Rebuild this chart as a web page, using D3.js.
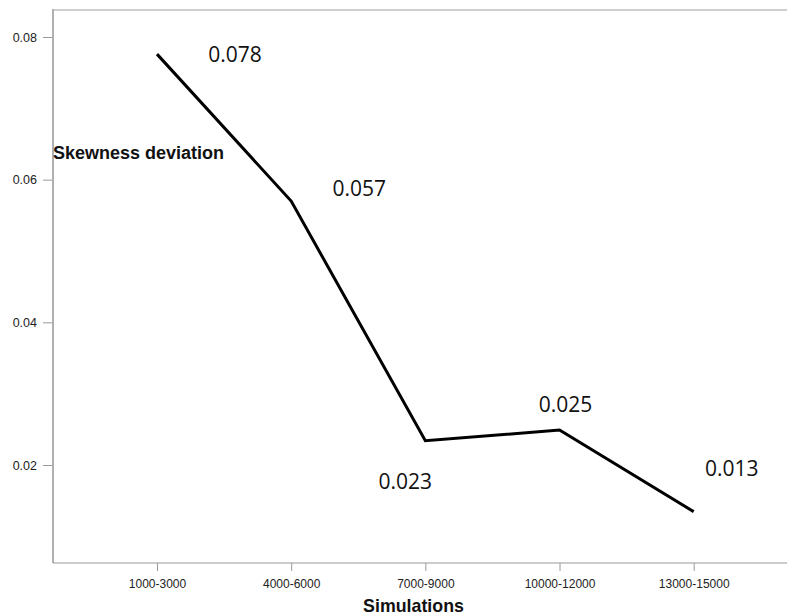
<!DOCTYPE html>
<html><head><meta charset="utf-8">
<script src="https://cdn.jsdelivr.net/npm/d3@7"></script>
<style>
html,body{margin:0;padding:0;background:#fff;}
svg{display:block;}
</style></head>
<body>
<svg id="chart" width="787" height="616"></svg>
<script>
const categories = ["1000-3000","4000-6000","7000-9000","10000-12000","13000-15000"];
const values = [0.0776, 0.0570, 0.0234, 0.0249, 0.01346];
const valueLabels = ["0.078","0.057","0.023","0.025","0.013"];
const yTicks = [0.02, 0.04, 0.06, 0.08];
const yTickLabels = ["0.02","0.04","0.06","0.08"];
const xTitle = "Simulations";
const yTitle = "Skewness deviation";

// label offsets (pixels) relative to each point
const labelOffsets = [[78,8],[68,-5],[-20,48],[6,-18],[38,-36]];

(function(){
const svg = d3.select("#chart");
const mLeft = 53, mTop = 10, mBottom = 563, mRight = 787;

const x = d3.scalePoint().domain(categories).range([157, 693.7]);
const y = d3.scaleLinear().domain([0.02, 0.08]).range([465, 37]);

// frame lines
svg.append("line").attr("x1", mLeft).attr("x2", mRight).attr("y1", mTop).attr("y2", mTop)
  .attr("stroke", "#cfcfcf").attr("stroke-width", 2);
svg.append("line").attr("x1", mLeft).attr("x2", mLeft).attr("y1", mTop - 1).attr("y2", mBottom)
  .attr("stroke", "#b0b0b0").attr("stroke-width", 2);
svg.append("line").attr("x1", mLeft).attr("x2", mRight).attr("y1", mBottom).attr("y2", mBottom)
  .attr("stroke", "#9a9a9a").attr("stroke-width", 1.2);

// y axis
const yAxis = svg.append("g").attr("transform", `translate(${mLeft - 1},0)`)
  .call(d3.axisLeft(y).tickValues(yTicks).tickSize(9).tickSizeOuter(0)
    .tickFormat((d, i) => yTickLabels[i]).tickPadding(6));
yAxis.select(".domain").remove();
yAxis.selectAll(".tick line").attr("stroke", "#9a9a9a");
yAxis.selectAll(".tick text").attr("font-family", "Liberation Sans, Arial, sans-serif")
  .attr("font-size", 12.5).attr("fill", "#222");

// x axis
const xAxis = svg.append("g").attr("transform", `translate(0,${mBottom})`)
  .call(d3.axisBottom(x).tickSize(8).tickSizeOuter(0).tickPadding(8));
xAxis.select(".domain").remove();
xAxis.selectAll(".tick line").attr("stroke", "#9a9a9a");
xAxis.selectAll(".tick text").attr("font-family", "Liberation Sans, Arial, sans-serif")
  .attr("font-size", 12).attr("fill", "#222");

// line
const line = d3.line().x((d, i) => x(categories[i])).y(d => y(d));
svg.append("path").datum(values).attr("d", line)
  .attr("fill", "none").attr("stroke", "#000").attr("stroke-width", 3)
  .attr("stroke-linejoin", "miter");

// value labels
svg.append("g").selectAll("text").data(values).join("text")
  .attr("x", (d, i) => x(categories[i]) + labelOffsets[i][0])
  .attr("y", (d, i) => y(d) + labelOffsets[i][1])
  .attr("text-anchor", "middle")
  .attr("font-family", "Open Sans, sans-serif")
  .attr("font-size", 21).attr("fill", "#111")
  .text((d, i) => valueLabels[i]);

// titles
svg.append("text").attr("x", 53).attr("y", 159)
  .attr("font-family", "Liberation Sans, Arial, sans-serif").attr("font-weight", "bold")
  .attr("font-size", 18).attr("fill", "#111").text(yTitle);
svg.append("text").attr("x", 413.5).attr("y", 612).attr("text-anchor", "middle")
  .attr("font-family", "Liberation Sans, Arial, sans-serif").attr("font-weight", "bold")
  .attr("font-size", 17.8).attr("fill", "#111").text(xTitle);
})();
</script>
</body></html>
